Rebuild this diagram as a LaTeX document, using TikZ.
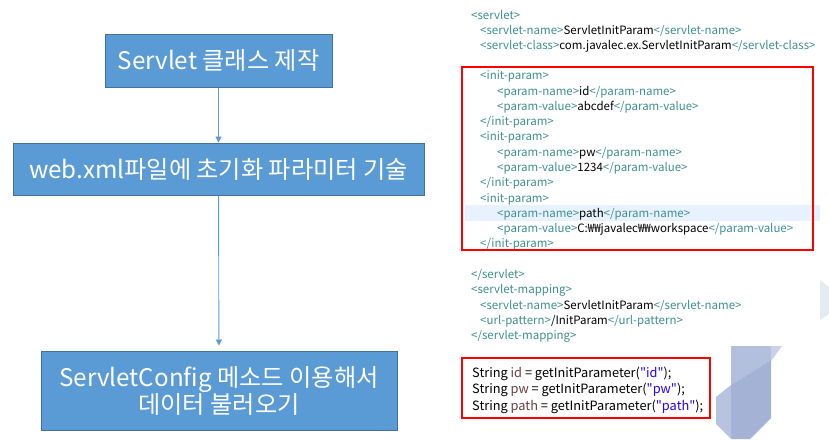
\documentclass[tikz,border=0pt]{standalone}
\usepackage{fontspec}
\setmainfont{Noto Sans CJK KR}
\newfontfamily\javafont{Noto Sans CJK KR}[Ligatures=TeXOff]
\usetikzlibrary{arrows.meta}
\definecolor{boxfill}{HTML}{5B9BD5}
\definecolor{boxline}{HTML}{41719C}
\definecolor{tagc}{HTML}{3F8F8F}
\definecolor{varc}{HTML}{6A3E3E}
\definecolor{strc}{HTML}{2A00FF}
\definecolor{hl}{HTML}{E8F2FE}
\definecolor{decoA}{HTML}{B3C0DD}
\definecolor{decoB}{HTML}{C8D1E7}
\definecolor{decoC}{HTML}{A3B2D5}
\definecolor{decoD}{HTML}{B7C3DF}
\definecolor{decoE}{HTML}{E6EAF3}
\newcommand{\tg}[1]{\textcolor{tagc}{#1}}
\newcommand{\qs}[1]{\textcolor{strc}{"#1"}}
\begin{document}
\begin{tikzpicture}[x=1pt,y=-1pt,
  stepbox/.style={draw=boxline, fill=boxfill, line width=1pt, text=white,
    font=\fontsize{24.2}{27}\selectfont, align=center, inner sep=0},
  conn/.style={draw=boxfill, line width=0.9pt, -{Triangle[length=6pt,width=6pt]}},
  code/.style={anchor=base west, inner sep=0, font=\fontsize{11.5}{12}\selectfont},
  jcode/.style={anchor=base west, inner sep=0, font=\javafont\fontsize{12.8}{14}\selectfont},
  redbox/.style={draw=red, line width=2.6pt}]
\useasboundingbox[fill=white] (0,0) rectangle (829,439);

% decorative shapes
\fill[decoE] (820,280) -- (829,287) -- (829,314) -- (820,320) -- cycle;
\fill[decoA] (731,346) -- (771,346) -- (771,360) -- (731,385) -- cycle;
\fill[decoB] (771,346) -- (782,346) -- (771,361) -- cycle;
\fill[decoC] (731,385) -- (771,360) -- (771,418) -- (750,439) -- (731,439) -- cycle;
\fill[decoD] (716,397) -- (731,385) -- (731,439) -- (716,424) -- cycle;

% flow boxes
\node[stepbox, minimum width=227pt, minimum height=53pt] (b1) at (218.5,60.5) {Servlet 클래스 제작};
\node[stepbox, minimum width=411pt, minimum height=52pt] (b2) at (218.5,169) {web.xml파일에 초기화 파라미터 기술};
\node[stepbox, minimum width=356pt, minimum height=79pt] (b3) at (219,390.5) {ServletConfig 메소드 이용해서\\데이터 불러오기};
\draw[conn] (b1) -- (b2);
\draw[conn, shorten >=5pt] (b2) -- (b3);

% code highlight
\fill[hl] (465,205) rectangle (820,221);

% xml code
\node[code] (c1) at (471,19) {\tg{<servlet>}};
\node[code] (c2) at (480,34) {\tg{<servlet-name>}ServletInitParam\tg{</servlet-name>}};
\node[code] (c3) at (480,49) {\tg{<servlet-class>}com.javalec.ex.ServletInitParam\tg{</servlet-class>}};
\node[code] (c4) at (480,79) {\tg{<init-param>}};
\node[code] (c5) at (497,95) {\tg{<param-name>}id\tg{</param-name>}};
\node[code] (c6) at (497,110) {\tg{<param-value>}abcdef\tg{</param-value>}};
\node[code] (c7) at (480,125) {\tg{</init-param>}};
\node[code] (c8) at (480,140) {\tg{<init-param>}};
\node[code] (c9) at (497,156) {\tg{<param-name>}pw\tg{</param-name>}};
\node[code] (c10) at (497,171) {\tg{<param-value>}1234\tg{</param-value>}};
\node[code] (c11) at (480,186) {\tg{</init-param>}};
\node[code] (c12) at (480,202) {\tg{<init-param>}};
\node[code] (c13) at (497,217) {\tg{<param-name>}path\tg{</param-name>}};
\node[code] (c14) at (497,232) {\tg{<param-value>}C:₩₩javalec₩₩workspace\tg{</param-value>}};
\node[code] (c15) at (480,247) {\tg{</init-param>}};
\node[code] (c16) at (471,278) {\tg{</servlet>}};
\node[code] (c17) at (471,293) {\tg{<servlet-mapping>}};
\node[code] (c18) at (480,309) {\tg{<servlet-name>}ServletInitParam\tg{</servlet-name>}};
\node[code] (c19) at (480,324) {\tg{<url-pattern>}/InitParam\tg{</url-pattern>}};
\node[code] (c20) at (471,339) {\tg{</servlet-mapping>}};
\draw[redbox] (462,67) rectangle (813,250);

% java code
\node[jcode] (j1) at (472,377) {String \textcolor{varc}{id} = getInitParameter(\qs{id});};
\node[jcode] (j2) at (472,393) {String \textcolor{varc}{pw} = getInitParameter(\qs{pw});};
\node[jcode] (j3) at (472,410) {String \textcolor{varc}{path} = getInitParameter(\qs{path});};
\draw[redbox] (462,358) rectangle (710,418);
\end{tikzpicture}
\end{document}
